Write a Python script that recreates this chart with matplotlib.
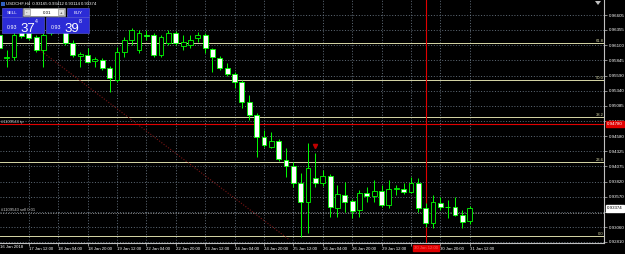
import matplotlib
matplotlib.use('Agg')
import matplotlib.pyplot as plt
from matplotlib.patches import Rectangle, Polygon

W, H = 625, 254
FONT = 'Liberation Sans'

header = "USDCHF,H4  0.93165 0.93412 0.93114 0.93374"
opens = [0.96271, 0.95886, 0.95903, 0.96388, 0.96354, 0.96237, 0.96020, 0.96304, 0.96455, 0.96354,
         0.96137, 0.95920, 0.95936, 0.95836, 0.95853, 0.95719, 0.95518, 0.95987, 0.96187, 0.96020,
         0.96271, 0.96271, 0.95936, 0.96137, 0.96304, 0.96087, 0.96104, 0.96221, 0.96271, 0.96037,
         0.95886, 0.95719, 0.95619, 0.95485, 0.95151, 0.94933, 0.94565, 0.94398, 0.94499, 0.94181,
         0.94081, 0.93796, 0.93479, 0.93880, 0.93796, 0.93913, 0.93378, 0.93596, 0.93495, 0.93345,
         0.93629, 0.93579, 0.93662, 0.93428, 0.93696, 0.93696, 0.93646, 0.93796, 0.93378, 0.93127,
         0.93462, 0.93395, 0.93395, 0.93261, 0.93165]
highs = [0.96304, 0.96020, 0.96354, 0.96438, 0.96405, 0.96271, 0.96304, 0.96488, 0.96522, 0.96405,
         0.96187, 0.95987, 0.96053, 0.95903, 0.95886, 0.95752, 0.96070, 0.96237, 0.96388, 0.96354,
         0.96354, 0.96304, 0.96271, 0.96354, 0.96338, 0.96271, 0.96271, 0.96321, 0.96304, 0.96053,
         0.95920, 0.95803, 0.95652, 0.95518, 0.95268, 0.94967, 0.94682, 0.94649, 0.94532, 0.94381,
         0.94147, 0.93963, 0.94465, 0.94298, 0.94014, 0.93947, 0.93763, 0.93813, 0.93529, 0.93679,
         0.93729, 0.93846, 0.93763, 0.93846, 0.93763, 0.93796, 0.93897, 0.93880, 0.93462, 0.93596,
         0.93562, 0.93512, 0.93562, 0.93345, 0.93412]
lows = [0.96020, 0.95736, 0.95853, 0.96221, 0.96187, 0.95987, 0.95736, 0.96271, 0.96304, 0.96104,
        0.95903, 0.95736, 0.95803, 0.95736, 0.95686, 0.95318, 0.95485, 0.95903, 0.96104, 0.95970,
        0.96187, 0.95903, 0.95903, 0.96104, 0.96104, 0.96020, 0.96053, 0.96154, 0.95970, 0.95652,
        0.95686, 0.95585, 0.95385, 0.95050, 0.94850, 0.94231, 0.94398, 0.94381, 0.94164, 0.93897,
        0.93729, 0.92893, 0.92960, 0.93729, 0.93746, 0.93228, 0.93228, 0.93311, 0.93211, 0.93228,
        0.93479, 0.93479, 0.93395, 0.93378, 0.93596, 0.93612, 0.93629, 0.93311, 0.93061, 0.93044,
        0.93345, 0.93211, 0.93245, 0.93044, 0.93114]
closes = [0.96053, 0.95903, 0.96271, 0.96254, 0.96221, 0.96020, 0.96271, 0.96421, 0.96354, 0.96137,
          0.95936, 0.95953, 0.95819, 0.95870, 0.95719, 0.95552, 0.95987, 0.96187, 0.96354, 0.96304,
          0.96254, 0.95936, 0.96237, 0.96304, 0.96137, 0.96154, 0.96187, 0.96271, 0.96053, 0.95903,
          0.95719, 0.95619, 0.95485, 0.95151, 0.94933, 0.94565, 0.94432, 0.94499, 0.94198, 0.94081,
          0.93796, 0.93479, 0.94047, 0.93796, 0.93913, 0.93395, 0.93612, 0.93479, 0.93328, 0.93629,
          0.93579, 0.93662, 0.93428, 0.93696, 0.93713, 0.93646, 0.93796, 0.93378, 0.93127, 0.93479,
          0.93395, 0.93395, 0.93261, 0.93144, 0.93374]

x_tick_idx = [4, 8, 12, 16, 20, 24, 28, 32, 36, 40, 44, 48, 52, 56, 60, 64]
# the 30 Jan 04:00 label is hidden under the red time box of the vertical line
x_tick_labels = ["17 Jan 12:00", "18 Jan 04:00", "18 Jan 20:00", "19 Jan 12:00", "22 Jan 04:00",
                 "22 Jan 20:00", "23 Jan 12:00", "24 Jan 04:00", "24 Jan 20:00", "25 Jan 12:00",
                 "26 Jan 04:00", "26 Jan 20:00", "29 Jan 12:00", "", "30 Jan 20:00",
                 "31 Jan 12:00"]
first_label = "16 Jan 2018"
price_ticks = [0.96605, 0.96355, 0.96100, 0.95845, 0.95590, 0.95340, 0.95085, 0.94830,
               0.94580, 0.94325, 0.94075, 0.93820, 0.93570, 0.93315, 0.93060, 0.92810]
fib_low, fib_high = 0.92910, 0.98127
fib_levels = [0.0, 23.6, 38.2, 50.0, 61.8]
tp_price = 0.94780
sell_price = 0.93300
order_label_tp = "#1109543 tp"
order_label_sell = "#1109543 sell 0.01"
bid_big, bid_small, bid_sup = "37", "0.93", "4"
ask_big, ask_small, ask_sup = "39", "0.93", "8"
bid_price = 0.93374
lot = "0.01"
vline_idx = 58
vline_label = "30 Jan 12:00"
trend_x = [5.5, 39.5]
trend_y = [0.96020, 0.92843]
marker_idx, marker_price = 43, 0.94420

y_top, y_bot = 0.96856, 0.92793
x_left, x_right = 0.088, 82.27

fig = plt.figure(figsize=(W / 100, H / 100), dpi=100, facecolor='black')
ax = fig.add_axes([0, 11 / H, 604 / W, 243 / H])
ax.set_facecolor('black')
ax.set_xlim(x_left, x_right)
ax.set_ylim(y_bot, y_top)

grid_c = '#8090A0'
for p in price_ticks:
    ax.axhline(p, color=grid_c, lw=0.5, ls=(0, (1.5, 2.5)), zorder=1)
for i in x_tick_idx:
    ax.axvline(i, color=grid_c, lw=0.5, ls=(0, (1.5, 2.5)), zorder=1)

# fibo levels
fib_c = '#D8D8A8'
for lv in fib_levels:
    p = fib_low + (fib_high - fib_low) * lv / 100.0
    ax.axhline(p, color=fib_c, lw=0.7, zorder=2)
    ax.text(x_right - 0.1, p + 0.00005, f"{lv:.1f}", color=fib_c, fontsize=3.0,
            family=FONT, ha='right', va='bottom', zorder=3)

# trend line
ax.plot(trend_x, trend_y, color='#7a1515', lw=0.8, ls=(0, (1, 1.5)), zorder=2)

# order lines
ax.axhline(tp_price, color='#E00000', lw=0.8, zorder=3)
ax.text(x_left + 0.15, tp_price + 0.00008, order_label_tp, color='#C8C8C8', fontsize=3.0,
        family=FONT, ha='left', va='bottom', zorder=3)
ax.axhline(sell_price, color='#909090', lw=0.6, ls=(0, (1.5, 1.5)), zorder=3)
ax.text(x_left + 0.15, sell_price + 0.00008, order_label_sell, color='#C8C8C8', fontsize=3.0,
        family=FONT, ha='left', va='bottom', zorder=3)

# vertical line
ax.axvline(vline_idx, color='#E00000', lw=0.8, zorder=3)

# candles
bw = 0.66
for i, (o, h, l, c) in enumerate(zip(opens, highs, lows, closes)):
    ax.vlines(i, l, h, color='#00FF00', lw=0.7, zorder=4)
    lo, hi = min(o, c), max(o, c)
    fc = 'black' if c > o else 'white'
    if hi - lo < 0.00002:
        ax.hlines(o, i - bw / 2, i + bw / 2, color='#00FF00', lw=0.7, zorder=5)
    else:
        ax.add_patch(Rectangle((i - bw / 2, lo), bw, hi - lo, facecolor=fc,
                               edgecolor='#00FF00', lw=0.6, zorder=5))

# trade marker
ax.plot([marker_idx], [marker_price], marker='v', color='#C00000', ms=3, zorder=6)

# axes styling
for s in ['top', 'left']:
    ax.spines[s].set_visible(False)
for s in ['right', 'bottom']:
    ax.spines[s].set_color('#C0C0C0')
    ax.spines[s].set_linewidth(0.8)
ax.yaxis.tick_right()
ax.set_yticks(price_ticks)
ax.set_yticklabels([f"{p:.5f}" for p in price_ticks], family=FONT, fontsize=3.2, color='white')
ax.set_xticks(x_tick_idx)
ax.set_xticklabels(x_tick_labels, family=FONT, fontsize=3.1, color='white', ha='left')
ax.tick_params(axis='y', length=2, width=0.5, color='#C0C0C0', pad=1.5)
ax.tick_params(axis='x', length=2, width=0.5, color='#C0C0C0', pad=1.0)
ax.text(x_left + 0.05, -0.01, first_label, transform=ax.get_xaxis_transform(),
        family=FONT, fontsize=3.1, color='white', ha='left', va='top', clip_on=False)

# red time label box
ax.text(vline_idx, -0.012, vline_label, transform=ax.get_xaxis_transform(), family=FONT,
        fontsize=3.1, color='#FF6060', ha='center', va='top', clip_on=False, zorder=10,
        bbox=dict(boxstyle='square,pad=0.25', fc='#E00000', ec='#E00000'))

# right axis price boxes
ax.text(1.005, tp_price, f"{tp_price:.5f}", transform=ax.get_yaxis_transform(), family=FONT,
        fontsize=3.2, color='white', ha='left', va='center', clip_on=False, zorder=10,
        bbox=dict(boxstyle='square,pad=0.2', fc='#E00000', ec='#E00000'))
ax.text(1.005, bid_price, f"{bid_price:.5f}", transform=ax.get_yaxis_transform(), family=FONT,
        fontsize=3.2, color='black', ha='left', va='center', clip_on=False, zorder=10,
        bbox=dict(boxstyle='square,pad=0.3', fc='white', ec='white'))

# header
def fx(x):
    return x / W
def fy(y):
    return 1 - y / H

fig.text(fx(6), fy(4), header, family=FONT, fontsize=3.1, color='white', ha='left', va='center')
fig.add_artist(Rectangle((fx(0.5), fy(6)), 4 / W, 4 / H, transform=fig.transFigure,
                         fc='#3060C0', ec='none'))
fig.add_artist(Polygon([(fx(595), fy(1)), (fx(601), fy(1)), (fx(598), fy(5))], closed=True,
                       transform=fig.transFigure, fc='#C0C0C0', ec='none'))

# one-click panel
blue = '#2B2BD6'
def box(x0, y0, x1, y1, fc, ec=None):
    fig.add_artist(Rectangle((fx(x0), fy(y1)), (x1 - x0) / W, (y1 - y0) / H,
                             transform=fig.transFigure, fc=fc, ec=ec or fc, lw=0.4, zorder=20))

box(2, 8, 22, 17, blue, '#6060E0')
box(67, 8, 89, 17, blue, '#6060E0')
box(23, 8, 65, 16, 'white', '#A0A0A0')
box(24, 9, 30, 15, '#E0E0E0', '#808080')
box(58, 9, 64, 15, '#E0E0E0', '#808080')
box(2, 17, 44, 33, blue, '#6060E0')
box(46, 17, 89, 33, blue, '#6060E0')
tk = dict(family=FONT, color='white', zorder=21)
fig.text(fx(12), fy(12.5), "SELL", fontsize=3.2, ha='center', va='center', **tk)
fig.text(fx(78), fy(12.5), "BUY", fontsize=3.2, ha='center', va='center', **tk)
fig.text(fx(27), fy(12.5), "-", fontsize=3.2, ha='center', va='center', family=FONT, color='black', zorder=21)
fig.text(fx(61), fy(12.5), "+", fontsize=3.2, ha='center', va='center', family=FONT, color='black', zorder=21)
fig.text(fx(47), fy(12.5), lot, fontsize=3.2, ha='center', va='center', family=FONT, color='black', zorder=21)
fig.text(fx(7), fy(29), bid_small, fontsize=3.8, ha='left', va='baseline', **tk)
fig.text(fx(20), fy(31.5), bid_big, fontsize=9.5, ha='left', va='baseline', **tk)
fig.text(fx(34.5), fy(23), bid_sup, fontsize=3.8, ha='left', va='baseline', **tk)
fig.text(fx(51), fy(29), ask_small, fontsize=3.8, ha='left', va='baseline', **tk)
fig.text(fx(64), fy(31.5), ask_big, fontsize=9.5, ha='left', va='baseline', **tk)
fig.text(fx(79), fy(23), ask_sup, fontsize=3.8, ha='left', va='baseline', **tk)

fig.savefig('out.png', dpi=100, facecolor='black')
